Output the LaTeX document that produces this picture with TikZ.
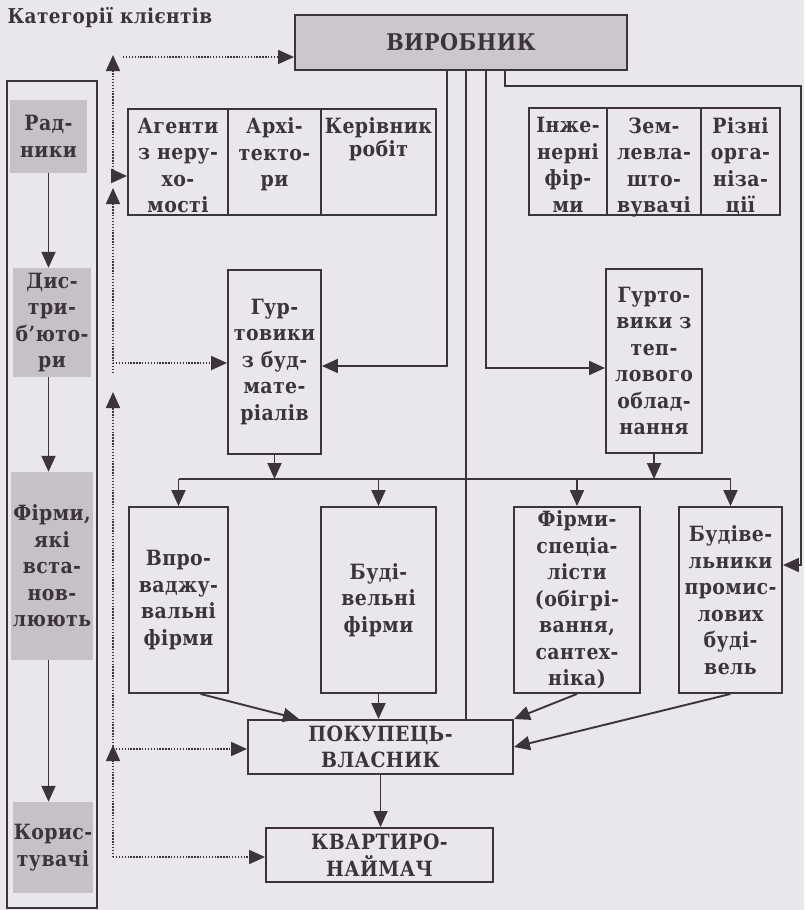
\documentclass[tikz,border=0pt]{standalone}
\usepackage{fontspec}
\setmainfont{DejaVu Serif Condensed}[BoldFont={DejaVu Serif Condensed Bold},LetterSpace=2]
\usetikzlibrary{arrows.meta,calc}
\definecolor{InkGray}{HTML}{3D343B}
\definecolor{PaperGray}{HTML}{E9E7EB}
\definecolor{ToneGray}{HTML}{C5C1C6}
\definecolor{HeadGray}{HTML}{CBC7CC}
\newcommand{\topstack}[2]{\parbox[c][88pt][t]{#1}{\centering #2}}
\tikzset{
  box/.style={draw=InkGray,line width=1.9pt,inner sep=0pt,text=InkGray,align=center,
    font=\bfseries\fontsize{21}{26.5}\selectfont},
  tone/.style={fill=ToneGray,inner sep=0pt,text=InkGray,align=center,
    font=\bfseries\fontsize{21}{26.5}\selectfont},
  link/.style={InkGray,line width=1.9pt},
  hint/.style={InkGray,line width=1.8pt,dash pattern=on 1.4pt off 1.5pt}
}
\begin{document}
\begin{tikzpicture}[x=1pt,y={(0pt,-1pt)},>={Triangle[length=16pt,width=14pt]}]
  \fill[PaperGray] (0,0) rectangle (804,910);
  \useasboundingbox (0,0) rectangle (804,910);
  \node[anchor=west,text=InkGray,font=\bfseries\fontsize{20.5}{22}\selectfont] (title) at (4,18) {Категорії клієнтів};
  % column of client categories
  \draw[link] (7,81) rectangle (97,908);
  \node[tone,minimum width=77,minimum height=73] (adv) at (48.5,136.5) {Рад-\\ники};
  \node[tone,minimum width=78,minimum height=109] (dist) at (52,322.5) {Дис-\\три-\\б'юто-\\ри};
  \node[tone,minimum width=82,minimum height=188] (inst) at (52,566) {Фірми,\\які\\вста-\\нов-\\люють};
  \node[tone,minimum width=80,minimum height=91] (user) at (53,847.5) {Корис-\\тувачі};
  \draw[link,->] (adv.south) -- (adv.south |- dist.north);
  \draw[link,->] (adv.south |- dist.south) -- (adv.south |- inst.north);
  \draw[link,->] (adv.south |- inst.south) -- (adv.south |- user.north);
  % producer and the first tier
  \node[box,fill=HeadGray,minimum width=332,minimum height=55,font=\bfseries\fontsize{23}{26}\selectfont] (prod) at (461,42.5) {ВИРОБНИК};
  \node[box,minimum width=100,minimum height=106] (agent) at (178,162) {\topstack{100pt}{Агенти\\з неру-\\хо-\\мості}};
  \node[box,minimum width=93,minimum height=106] (arch) at (274.5,162) {\topstack{93pt}{Архі-\\текто-\\ри}};
  \node[box,minimum width=115,minimum height=106] (chief) at (378.5,162) {\topstack{115pt}{\fontsize{21}{22.5}\selectfont Керівник\\робіт}};
  \node[box,minimum width=78,minimum height=107] (eng) at (568,161.5) {\topstack{78pt}{Інже-\\нерні\\фір-\\ми}};
  \node[box,minimum width=94,minimum height=107] (land) at (654,161.5) {\topstack{94pt}{Зем-\\левла-\\што-\\вувачі}};
  \node[box,minimum width=79,minimum height=107] (misc) at (740.5,161.5) {\topstack{79pt}{Різні\\орга-\\ніза-\\ції}};
  % wholesalers
  \node[box,minimum width=93,minimum height=184] (bmat) at (274.5,362) {Гур-\\товики\\з буд-\\мате-\\ріалів};
  \node[box,minimum width=96,minimum height=184] (heat) at (654,361) {Гурто-\\вики з\\теп-\\лового\\облад-\\нання};
  % installers and builders
  \node[box,minimum width=99,minimum height=186] (impl) at (178.5,600) {Впро-\\ваджу-\\вальні\\фірми};
  \node[box,minimum width=115,minimum height=186] (build) at (378.5,600) {Буді-\\вельні\\фірми};
  \node[box,minimum width=126,minimum height=186] (spec) at (577,600) {Фірми-\\спеціа-\\лісти\\(обігрі-\\вання,\\сантех-\\ніка)};
  \node[box,minimum width=103,minimum height=186] (indus) at (730.5,600) {Будіве-\\льники\\промис-\\лових\\буді-\\вель};
  % final buyers
  \node[box,minimum width=265,minimum height=54] (buyer) at (380.5,747) {ПОКУПЕЦЬ-\\ВЛАСНИК};
  \node[box,minimum width=227,minimum height=54] (tenant) at (379.5,855) {КВАРТИРО-\\НАЙМАЧ};
  % lines down from the producer
  \coordinate (p1) at ($(prod.south)+(-14,0)$);
  \coordinate (p2) at ($(prod.south)+(5,0)$);
  \coordinate (p3) at ($(prod.south)+(25,0)$);
  \coordinate (p4) at ($(prod.south)+(44,0)$);
  \coordinate (ecorner) at (801,86);
  \draw[link,->] (p1) |- ($(bmat.east)+(0,4)$);
  \draw[link] (p2) -- (p2 |- buyer.north);
  \draw[link,->] (p3) |- ($(heat.west)+(0,7)$);
  \draw[link,->] (p4) |- (ecorner) |- ($(indus.east)+(0,-35)$);
  % split to the installers
  \coordinate (split) at (0,479);
  \draw[link,->] (bmat.south) -- (bmat.south |- split);
  \draw[link,->] (heat.south) -- (heat.south |- split);
  \draw[link] (impl.north |- split) -- (indus.north |- split);
  \foreach \n in {impl,build,spec,indus}
    \draw[link,->] (\n.north |- split) -- (\n.north);
  % into the buyer
  \draw[link,->] ($(impl.south)+(22,0)$) -- ($(buyer.north west)+(52,0)$);
  \draw[link,->] (build.south) -- (build.south |- buyer.north);
  \draw[link,->] (spec.south) -- (buyer.north east);
  \draw[link,->] (indus.south) -- (buyer.east);
  \draw[link,->] (buyer.south) -- (buyer.south |- tenant.north);
  % dotted feedback line
  \coordinate (b0) at (113,55);
  \coordinate (b1) at (113,176);
  \coordinate (b2) at (113,363);
  \coordinate (b3) at (113,749);
  \coordinate (b4) at (113,857);
  \coordinate (hs) at (123,57);
  \draw[hint,->] (b4) -- (113,745);
  \draw[hint,->] (b3) -- (113,392);
  \draw[hint,->] (113,373) -- (113,188);
  \draw[hint,->] (b1) -- (b0);
  \draw[hint,->] (hs) -- (hs -| prod.west);
  \draw[hint,->] (b1) -- (b1 -| agent.west);
  \draw[hint,->] (b2) -- (b2 -| bmat.west);
  \draw[hint,->] (b3) -- (b3 -| buyer.west);
  \draw[hint,->] (b4) -- (b4 -| tenant.west);
\end{tikzpicture}
\end{document}
